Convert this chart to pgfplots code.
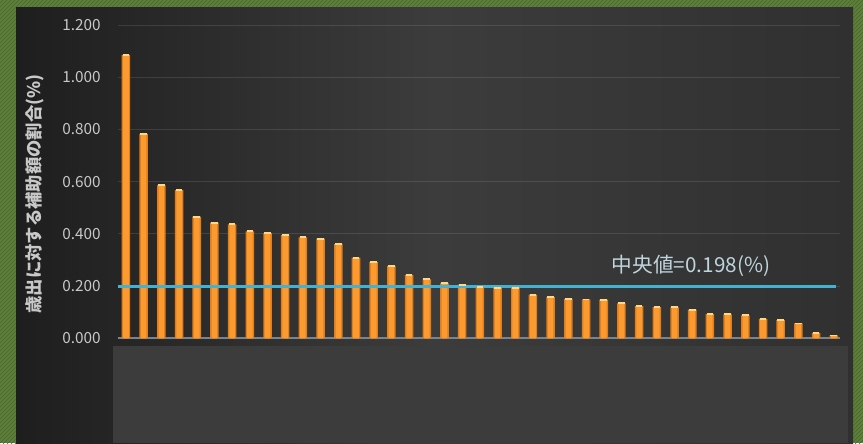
\documentclass[border=0pt]{standalone}
\usepackage{pgfplots}
\pgfplotsset{compat=1.18}
\usepackage{pgfplotstable}
\usepackage{fontspec}
\setmainfont{Noto Sans CJK JP}
\usetikzlibrary{patterns}
\definecolor{greenbg}{HTML}{5E7E3E}
\definecolor{greenln}{HTML}{47672A}
\definecolor{paneldark}{HTML}{1E1E1E}
\definecolor{panelmid}{HTML}{3C3C3C}
\definecolor{panelright}{HTML}{303030}
\definecolor{lowerbox}{HTML}{3C3C3C}
\definecolor{barmid}{HTML}{FA9A30}
\definecolor{baredge}{HTML}{E27E1A}
\definecolor{barcap}{HTML}{FFD98A}
\definecolor{medline}{HTML}{45B0D0}
\definecolor{medtext}{HTML}{BFD5DE}
\definecolor{ticktext}{HTML}{C8C8C8}
\definecolor{baseline}{HTML}{7B838C}

\pgfplotstableread{
x y
1 1.086
2 0.783
3 0.586
4 0.568
5 0.466
6 0.443
7 0.437
8 0.410
9 0.403
10 0.395
11 0.387
12 0.382
13 0.361
14 0.309
15 0.292
16 0.277
17 0.243
18 0.226
19 0.211
20 0.206
21 0.198
22 0.193
23 0.192
24 0.167
25 0.158
26 0.151
27 0.149
28 0.148
29 0.134
30 0.123
31 0.120
32 0.119
33 0.110
34 0.093
35 0.092
36 0.088
37 0.075
38 0.070
39 0.057
40 0.021
41 0.011
}\datatable

\begin{document}
\begin{tikzpicture}
% outer green frame
\fill[greenbg] (0pt,0pt) rectangle (647.25pt,332.25pt);
\fill[pattern=north east lines, pattern color=greenln] (0pt,0pt) rectangle (647.25pt,332.25pt);
% dark panel
\shade[left color=paneldark, right color=panelright, middle color=panelmid] (12pt,0pt) rectangle (639.75pt,326.25pt);
% lower box
\fill[lowerbox] (84.75pt,0pt) rectangle (636pt,72.75pt);

\begin{axis}[
  at={(88.5pt,78.5pt)}, anchor=origin,
  scale only axis,
  width=541.5pt, height=234.9pt,
  xmin=0.55, xmax=41.35,
  ymin=0, ymax=1.2,
  axis line style={draw=none},
  xtick=\empty,
  ytick={0,0.2,0.4,0.6,0.8,1.0,1.2},
  major tick length=0pt,
  ymajorgrids,
  grid style={color=white, opacity=0.11, line width=0.8pt},
  yticklabel style={font=\fontsize{11.5}{13}\selectfont, color=ticktext, xshift=-9.5pt},
  /pgf/number format/assume math mode=true,
  y tick label style={/pgf/number format/.cd, fixed, fixed zerofill, precision=3},
  clip=false,
]
\addplot[draw=baseline, line width=1.5pt] coordinates {(0.55,0) (41.35,0)};
\addplot[ybar, bar width=6.4pt, draw=none, fill=baredge] table[x=x,y=y] {\datatable};
\addplot[ybar, bar width=4.2pt, draw=none, fill=barmid] table[x=x,y=y] {\datatable};
\addplot[only marks, mark=-, mark size=2.5pt, mark options={line width=1.4pt, color=barcap}] table[x=x,y=y] {\datatable};
\addplot[draw=medline, line width=2.3pt] coordinates {(0.55,0.198) (41.1,0.198)};
\end{axis}

% y-axis label
\node[rotate=90, color=ticktext, font=\fontsize{13}{15}\selectfont\bfseries] at (26.25pt,186.75pt) {歳出に対する補助額の割合(\%)};
% median label
\node[color=medtext, font=\fontsize{15.5}{17}\selectfont] at (518.25pt,132.75pt) {中央値=0.198(\%)};
\end{tikzpicture}
\end{document}
